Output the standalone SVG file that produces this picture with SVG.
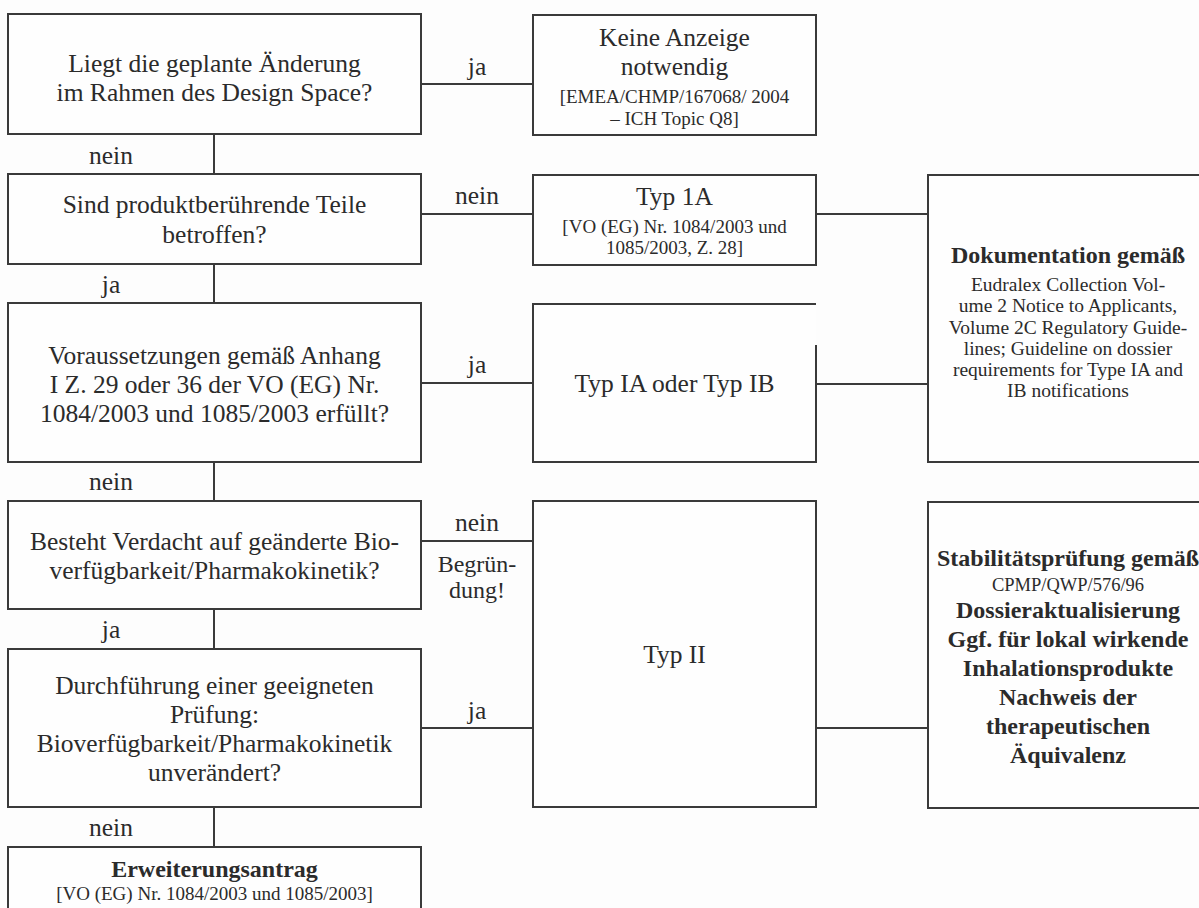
<svg xmlns="http://www.w3.org/2000/svg" width="1199" height="908" viewBox="0 0 1199 908">
<style>
.box{fill:#fefefe;stroke:#3a3a3a;stroke-width:2}
.ln{fill:none;stroke:#3a3a3a;stroke-width:2}
text{font-family:"Liberation Serif","Times New Roman",serif;fill:#2b2b2b;text-anchor:middle}
.m{font-size:25.5px}
.s{font-size:19px}
.r{font-size:19.5px}
.b{font-size:24px;font-weight:bold}
</style>
<rect x="0" y="0" width="1199" height="908" fill="#fdfdfd"/>
<g id="connectors">
<line class="ln" x1="214" y1="134" x2="214" y2="174"/>
<line class="ln" x1="214" y1="264" x2="214" y2="303"/>
<line class="ln" x1="214" y1="462" x2="214" y2="501"/>
<line class="ln" x1="214" y1="609" x2="214" y2="649"/>
<line class="ln" x1="214" y1="807" x2="214" y2="847"/>
<line class="ln" x1="421" y1="84" x2="533" y2="84"/>
<line class="ln" x1="421" y1="214" x2="533" y2="214"/>
<line class="ln" x1="421" y1="383" x2="533" y2="383"/>
<line class="ln" x1="421" y1="541" x2="533" y2="541"/>
<line class="ln" x1="421" y1="728" x2="533" y2="728"/>
<line class="ln" x1="816" y1="214" x2="928" y2="214"/>
<line class="ln" x1="816" y1="384" x2="928" y2="384"/>
<line class="ln" x1="816" y1="728" x2="928" y2="728"/>
<text class="m" x="111" y="164">nein</text>
<text class="m" x="111" y="293">ja</text>
<text class="m" x="111" y="490">nein</text>
<text class="m" x="111" y="638">ja</text>
<text class="m" x="111" y="836">nein</text>
<text class="m" x="477" y="75">ja</text>
<text class="m" x="477" y="204">nein</text>
<text class="m" x="477" y="373">ja</text>
<text class="m" x="477" y="531">nein</text>
<text class="m" x="477" y="572" style="font-size:24px">Begrün-</text>
<text class="m" x="477" y="598" style="font-size:24px">dung!</text>
<text class="m" x="477" y="719">ja</text>
</g>
<g id="q1">
<rect class="box" x="8" y="14" width="413" height="120"/>
<text class="m" x="214.5" y="72">Liegt die geplante Änderung</text>
<text class="m" x="214.5" y="101">im Rahmen des Design Space?</text>
</g>
<g id="q2">
<rect class="box" x="8" y="174" width="413" height="90"/>
<text class="m" x="214.5" y="213">Sind produktberührende Teile</text>
<text class="m" x="214.5" y="243">betroffen?</text>
</g>
<g id="q3">
<rect class="box" x="8" y="303" width="413" height="159"/>
<text class="m" x="214.5" y="364">Voraussetzungen gemäß Anhang</text>
<text class="m" x="214.5" y="393">I Z. 29 oder 36 der VO (EG) Nr.</text>
<text class="m" x="214.5" y="422">1084/2003 und 1085/2003 erfüllt?</text>
</g>
<g id="q4">
<rect class="box" x="8" y="501" width="413" height="108"/>
<text class="m" x="214.5" y="550">Besteht Verdacht auf geänderte Bio-</text>
<text class="m" x="214.5" y="579">verfügbarkeit/Pharmakokinetik?</text>
</g>
<g id="q5">
<rect class="box" x="8" y="649" width="413" height="158"/>
<text class="m" x="214.5" y="694">Durchführung einer geeigneten</text>
<text class="m" x="214.5" y="723">Prüfung:</text>
<text class="m" x="214.5" y="752">Bioverfügbarkeit/Pharmakokinetik</text>
<text class="m" x="214.5" y="781">unverändert?</text>
</g>
<g id="erweiterung">
<rect class="box" x="8" y="847" width="413" height="80"/>
<text class="b" x="214.5" y="877">Erweiterungsantrag</text>
<text class="s" x="214.5" y="900">[VO (EG) Nr. 1084/2003 und 1085/2003]</text>
</g>
<g id="keine">
<rect class="box" x="533" y="15" width="283" height="120"/>
<text class="m" x="674.5" y="46">Keine Anzeige</text>
<text class="m" x="674.5" y="75">notwendig</text>
<text class="s" x="674.5" y="103">[EMEA/CHMP/167068/ 2004</text>
<text class="s" x="674.5" y="125">– ICH Topic Q8]</text>
</g>
<g id="typ1a">
<rect class="box" x="533" y="175" width="283" height="90"/>
<text class="m" x="674.5" y="205">Typ 1A</text>
<text class="s" x="674.5" y="233">[VO (EG) Nr. 1084/2003 und</text>
<text class="s" x="674.5" y="254">1085/2003, Z. 28]</text>
</g>
<g id="typiaib">
<rect x="533" y="304" width="283" height="158" fill="#fefefe"/>
<path class="ln" d="M816 345 V462 H533 V304 H816"/>
<text class="m" x="674.5" y="392">Typ IA oder Typ IB</text>
</g>
<g id="typii">
<rect class="box" x="533" y="501" width="283" height="306"/>
<text class="m" x="674.5" y="663">Typ II</text>
</g>
<g id="doku">
<rect class="box" x="928" y="175" width="282" height="287"/>
<text class="b" x="1068" y="263">Dokumentation gemäß</text>
<text class="r" x="1068" y="291">Eudralex Collection Vol-</text>
<text class="r" x="1068" y="312">ume 2 Notice to Applicants,</text>
<text class="r" x="1068" y="334">Volume 2C Regulatory Guide-</text>
<text class="r" x="1068" y="355">lines; Guideline on dossier</text>
<text class="r" x="1068" y="376">requirements for Type IA and</text>
<text class="r" x="1068" y="397">IB notifications</text>
</g>
<g id="stabilitaet">
<rect class="box" x="928" y="502" width="282" height="306"/>
<text class="b" x="1068" y="566">Stabilitätsprüfung gemäß</text>
<text class="r" x="1068" y="591" style="font-size:18.5px">CPMP/QWP/576/96</text>
<text class="b" x="1068" y="618">Dossieraktualisierung</text>
<text class="b" x="1068" y="647">Ggf. für lokal wirkende</text>
<text class="b" x="1068" y="676">Inhalationsprodukte</text>
<text class="b" x="1068" y="705">Nachweis der</text>
<text class="b" x="1068" y="734">therapeutischen</text>
<text class="b" x="1068" y="763">Äquivalenz</text>
</g>
</svg>
